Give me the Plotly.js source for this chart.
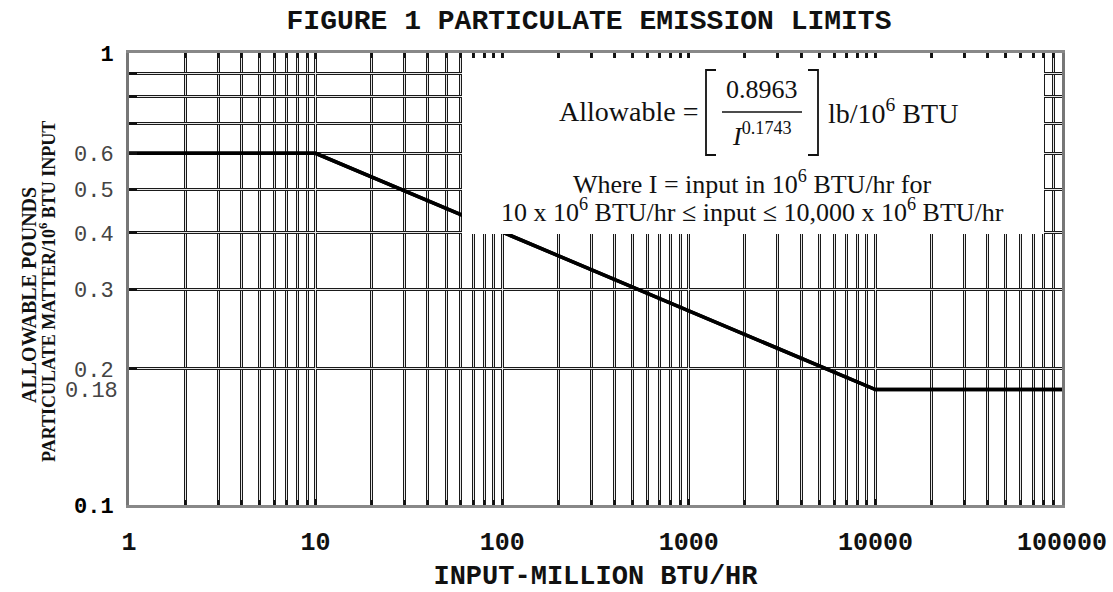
<!DOCTYPE html>
<html><head><meta charset="utf-8">
<script src="https://cdn.plot.ly/plotly-3.0.1.min.js"></script>
<style>html,body{margin:0;padding:0;background:#fff}</style>
</head><body><div id="chart" style="width:1113px;height:592px"></div>
<script>
// ---- data ----
const inputMillionBtu = [1, 10, 10000, 100000];
const allowableLb = [0.6, 0.6, 0.18, 0.18];
const xTickVals = [1, 10, 100, 1000, 10000, 100000];
const xTickText = ['1', '10', '100', '1000', '10000', '100000'];
const yTickVals = [0.1, 0.2, 0.3, 0.4, 0.5, 0.6, 0.7, 0.8, 0.9, 1];
const yTickText = ['0.1', '0.2', '0.3', '0.4', '0.5', '0.6', '', '', '', '1'];
const yExtraLabel = '0.18';

// grid positions (1..9 per decade)
const xMinor = [];
for (let k = 0; k < 5; k++) for (let m = 2; m <= 9; m++) xMinor.push(m * Math.pow(10, k));

// pixel helpers for decoration placement
const L = 129, R = 1062, T = 53, B = 505;
const px = x => (x - L) / (R - L);
const py = y => (B - y) / (B - T);

const mono = 'Liberation Mono, Courier New, monospace';
const serif = 'Liberation Serif, Times New Roman, serif';

const yText = yTickText.map((t, i) => (i === 0 || i === yTickText.length - 1) ? '<b><span style="color:#000">' + t + '</span></b>' : t);

const lineTrace = {
  x: inputMillionBtu, y: allowableLb, mode: 'lines', type: 'scatter',
  line: {color: '#000', width: 3.5}, hoverinfo: 'skip', showlegend: false
};
const lineTrace2 = Object.assign({}, lineTrace, {xaxis: 'x2', yaxis: 'y2'});

const gridDark = '#1a1a1a';
const gridLight = '#e6e6e6';
const boxFont = {family: serif, size: 26, color: '#111'};
const boxFontBig = {family: serif, size: 28, color: '#111'};

const layout = {
  width: 1113, height: 592,
  margin: {l: L, r: 1113 - R, t: T, b: 592 - B, pad: 0},
  paper_bgcolor: '#fff', plot_bgcolor: '#fff',
  showlegend: false,
  title: {
    text: '<b>FIGURE 1 PARTICULATE EMISSION LIMITS</b>',
    font: {family: mono, size: 28, color: '#111'},
    x: 589 / 1113, xanchor: 'center', xref: 'container',
    y: 1 - 19 / 592, yanchor: 'middle', yref: 'container'
  },
  xaxis: {
    type: 'log', range: [0, 5],
    tickmode: 'array', tickvals: xTickVals, ticktext: xTickText,
    tickfont: {family: mono, size: 25, color: '#111', weight: 'bold'},
    ticks: 'inside', ticklen: 6, tickwidth: 2, tickcolor: '#111',
    ticklabelstandoff: 12,
    showgrid: true, gridcolor: gridDark, gridwidth: 3,
    minor: {tickvals: xMinor, showgrid: true, gridcolor: gridDark, gridwidth: 3,
            ticks: 'inside', ticklen: 5, tickwidth: 2, tickcolor: '#111'},
    showline: true, linecolor: '#888', linewidth: 3, mirror: 'ticks',
    zeroline: false,
    title: {text: '<b>INPUT-MILLION BTU/HR</b>', font: {family: mono, size: 27, color: '#111'}, standoff: 14}
  },
  yaxis: {
    type: 'log', range: [-1, 0],
    tickmode: 'array', tickvals: yTickVals, ticktext: yText,
    tickfont: {family: mono, size: 22, color: '#444'},
    ticks: 'inside', ticklen: 8, tickwidth: 3, tickcolor: '#111',
    ticklabelstandoff: 8,
    showgrid: true, gridcolor: gridDark, gridwidth: 3,
    showline: true, linecolor: '#777', linewidth: 3, mirror: true,
    zeroline: false
  },
  xaxis2: {
    type: 'log', range: [0, 5], overlaying: 'x', anchor: 'y2',
    tickmode: 'array', tickvals: xTickVals, showticklabels: false, ticks: '',
    showgrid: true, gridcolor: gridLight, gridwidth: 1,
    minor: {tickvals: xMinor, showgrid: true, gridcolor: gridLight, gridwidth: 1},
    showline: false, zeroline: false
  },
  yaxis2: {
    type: 'log', range: [-1, 0], overlaying: 'y', anchor: 'x2',
    tickmode: 'array', tickvals: yTickVals, showticklabels: false, ticks: '',
    showgrid: true, gridcolor: gridLight, gridwidth: 1,
    showline: false, zeroline: false
  },
  shapes: [
    {type: 'rect', xref: 'paper', yref: 'paper', layer: 'above',
     x0: px(462), x1: px(1044), y0: py(234), y1: py(58),
     fillcolor: '#fff', line: {width: 0}},
    {type: 'path', xref: 'paper', yref: 'paper', layer: 'above',
     path: `M ${px(716)} ${py(70)} L ${px(706)} ${py(70)} L ${px(706)} ${py(155)} L ${px(716)} ${py(155)}`,
     line: {color: '#111', width: 1.8}},
    {type: 'path', xref: 'paper', yref: 'paper', layer: 'above',
     path: `M ${px(808)} ${py(70)} L ${px(818)} ${py(70)} L ${px(818)} ${py(155)} L ${px(808)} ${py(155)}`,
     line: {color: '#111', width: 1.8}},
    {type: 'line', xref: 'paper', yref: 'paper', layer: 'above',
     x0: px(722), x1: px(802), y0: py(112), y1: py(112),
     line: {color: '#111', width: 1.5}}
  ],
  annotations: [
    {xref: 'paper', yref: 'y', x: 0, y: Math.log10(0.18), xanchor: 'right', yanchor: 'middle',
     xshift: -9, yshift: -2, text: yExtraLabel, showarrow: false, font: {family: mono, size: 22, color: '#444'}},
    {xref: 'paper', yref: 'paper', x: px(29), y: py(295), xanchor: 'center', yanchor: 'middle',
     textangle: -90, showarrow: false, text: '<b>ALLOWABLE POUNDS</b>',
     font: {family: serif, size: 20, color: '#111'}},
    {xref: 'paper', yref: 'paper', x: px(47), y: py(292), xanchor: 'center', yanchor: 'middle',
     textangle: -90, showarrow: false, text: '<b>PARTICULATE MATTER/10<sup>6</sup> BTU INPUT</b>',
     font: {family: serif, size: 18, color: '#111'}},
    {xref: 'paper', yref: 'paper', x: px(700), y: py(111), xanchor: 'right', yanchor: 'middle',
     showarrow: false, text: 'Allowable =', font: boxFontBig},
    {xref: 'paper', yref: 'paper', x: px(762), y: py(90), xanchor: 'center', yanchor: 'middle',
     showarrow: false, text: '0.8963', font: boxFont},
    {xref: 'paper', yref: 'paper', x: px(762), y: py(134), xanchor: 'center', yanchor: 'middle',
     showarrow: false, text: '<i>I</i><sup>0.1743</sup>', font: boxFont},
    {xref: 'paper', yref: 'paper', x: px(826), y: py(111), xanchor: 'left', yanchor: 'middle',
     showarrow: false, text: 'lb/10<sup>6</sup> BTU', font: boxFontBig},
    {xref: 'paper', yref: 'paper', x: px(752), y: py(182), xanchor: 'center', yanchor: 'middle',
     showarrow: false, text: 'Where I = input in 10<sup>6</sup> BTU/hr for', font: boxFont},
    {xref: 'paper', yref: 'paper', x: px(752), y: py(210), xanchor: 'center', yanchor: 'middle',
     showarrow: false, text: '10 x 10<sup>6</sup> BTU/hr ≤ input ≤ 10,000 x 10<sup>6</sup> BTU/hr', font: boxFont}
  ]
};

Plotly.newPlot('chart', [lineTrace, lineTrace2], layout, {displayModeBar: false, staticPlot: true});
</script>
</body></html>
